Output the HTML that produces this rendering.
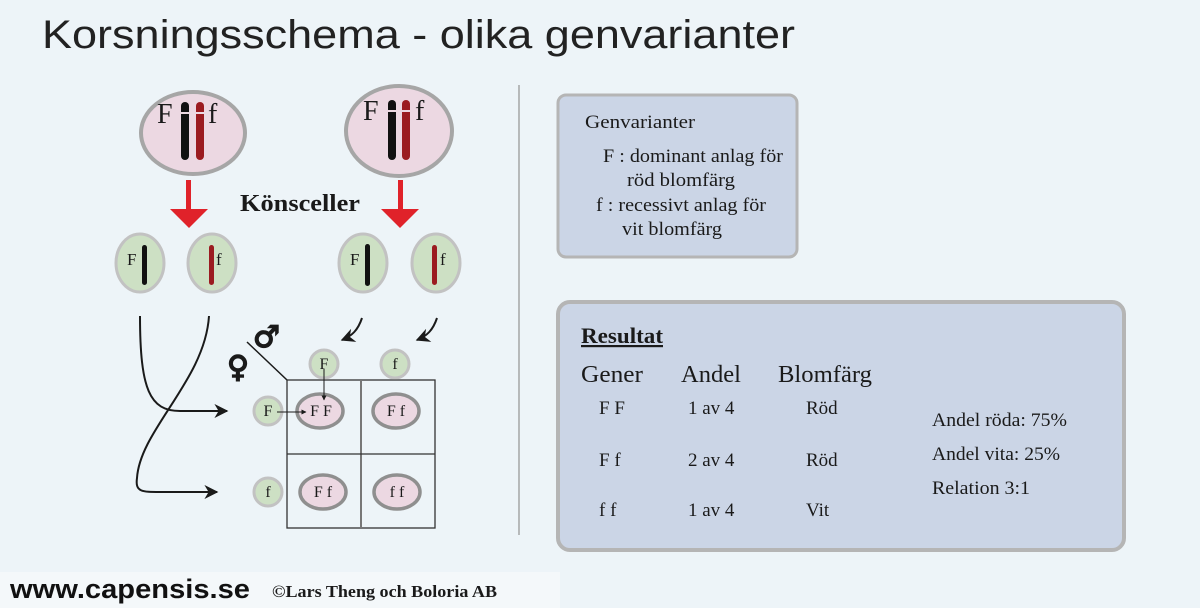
<!DOCTYPE html>
<html><head><meta charset="utf-8"><style>
html,body{margin:0;padding:0;background:#edf4f8;}
svg{display:block}
.s{font-family:"Liberation Serif",serif;fill:#1a1a1a}
</style></head><body>
<svg width="1200" height="608" viewBox="0 0 1200 608" xmlns="http://www.w3.org/2000/svg">
<defs>
<marker id="ah" viewBox="0 0 10 10" refX="9" refY="5" markerWidth="7" markerHeight="7" orient="auto"><path d="M0,0 L10,5 L0,10 L3,5 z" fill="#1a1a1a"/></marker>
<marker id="ah2" viewBox="0 0 10 10" refX="9" refY="5" markerWidth="5" markerHeight="5" orient="auto"><path d="M0,0 L10,5 L0,10 z" fill="#1a1a1a"/></marker>
</defs>
<rect width="1200" height="608" fill="#edf4f8"/>
<rect x="0" y="572" width="560" height="36" fill="#f4f8fa"/>
<text x="42" y="48" font-family="Liberation Sans,sans-serif" font-size="40" fill="#222" textLength="753" lengthAdjust="spacingAndGlyphs">Korsningsschema - olika genvarianter</text>

<ellipse cx="193" cy="133" rx="52" ry="41" fill="#ecd8e2" stroke="#a6a6a6" stroke-width="4"/>
<ellipse cx="399" cy="131" rx="53" ry="45" fill="#ecd8e2" stroke="#a6a6a6" stroke-width="4"/>
<g fill="#111"><rect x="181" y="102" width="8" height="58" rx="4"/><rect x="388" y="100" width="8" height="60" rx="4"/></g>
<g fill="#9b1b20"><rect x="196" y="102" width="8" height="58" rx="4"/><rect x="402" y="100" width="8" height="60" rx="4"/></g>
<g stroke="#ecd8e2" stroke-width="2"><line x1="180" y1="113" x2="205" y2="113"/><line x1="387" y1="111" x2="411" y2="111"/></g>
<text class="s" x="157" y="123" font-size="28">F</text><text class="s" x="208" y="123" font-size="28">f</text>
<text class="s" x="363" y="120" font-size="28">F</text><text class="s" x="415" y="120" font-size="28">f</text>

<g fill="#e0222a"><rect x="186" y="180" width="5" height="36"/><path d="M170,209 L208,209 L189,228 z"/>
<rect x="398" y="180" width="5" height="36"/><path d="M381,209 L419,209 L400,228 z"/></g>
<text class="s" x="240" y="211" font-size="24" font-weight="bold" textLength="120" lengthAdjust="spacingAndGlyphs">Könsceller</text>

<g fill="#cde0c4" stroke="#c2c2c2" stroke-width="3">
<ellipse cx="140" cy="263" rx="24" ry="29"/><ellipse cx="212" cy="263" rx="24" ry="29"/>
<ellipse cx="363" cy="263" rx="24" ry="29"/><ellipse cx="436" cy="263" rx="24" ry="29"/></g>
<g fill="#111"><rect x="142" y="245" width="5" height="40" rx="2.5"/><rect x="365" y="244" width="5" height="42" rx="2.5"/></g>
<g fill="#9b1b20"><rect x="209" y="245" width="5" height="40" rx="2.5"/><rect x="432" y="245" width="5" height="40" rx="2.5"/></g>
<text class="s" x="127" y="265" font-size="17">F</text><text class="s" x="216" y="265" font-size="17">f</text>
<text class="s" x="350" y="265" font-size="17">F</text><text class="s" x="440" y="265" font-size="17">f</text>

<g fill="none" stroke="#1a1a1a" stroke-width="2">
<path d="M140,316 C140,390 150,411 180,411 L227,411" marker-end="url(#ah)"/>
<path d="M209,316 C205,380 140,430 137,478 C135,492 142,492 160,492 L217,492" marker-end="url(#ah)"/>
<path d="M362,318 C358,330 352,336 342,340" marker-end="url(#ah)"/>
<path d="M437,318 C433,330 427,336 417,340" marker-end="url(#ah)"/>
<line x1="247" y1="342" x2="287" y2="380" stroke-width="1.5"/>
</g>
<text x="253" y="347" font-family="DejaVu Sans,sans-serif" font-weight="bold" font-size="30" fill="#1a1a1a" stroke="#1a1a1a" stroke-width="1.5">♂</text>
<text x="227" y="377" font-family="DejaVu Sans,sans-serif" font-weight="bold" font-size="30" fill="#1a1a1a" stroke="#1a1a1a" stroke-width="1.5">♀</text>

<g fill="none" stroke="#333" stroke-width="1.3"><rect x="287" y="380" width="148" height="148"/><line x1="361" y1="380" x2="361" y2="528" stroke="#777" stroke-width="2"/><line x1="287" y1="454" x2="435" y2="454"/></g>
<g fill="#cde0c4" stroke="#c2c2c2" stroke-width="3">
<circle cx="324" cy="364" r="14"/><circle cx="395" cy="364" r="14"/>
<circle cx="268" cy="411" r="14"/><circle cx="268" cy="492" r="14"/></g>
<g fill="#ecd8e2" stroke="#8f8f8f" stroke-width="3.5">
<ellipse cx="320" cy="411" rx="23" ry="17"/><ellipse cx="396" cy="411" rx="23" ry="17"/>
<ellipse cx="323" cy="492" rx="23" ry="17"/><ellipse cx="397" cy="492" rx="23" ry="17"/></g>
<g class="s" font-size="16" text-anchor="middle">
<text x="324" y="369">F</text><text x="395" y="369">f</text><text x="268" y="416">F</text><text x="268" y="497">f</text>
<text x="321" y="416">F F</text><text x="396" y="416">F f</text><text x="323" y="497">F f</text><text x="397" y="497">f f</text></g>
<g stroke="#1a1a1a" stroke-width="1" fill="none">
<line x1="324" y1="369" x2="324" y2="400" marker-end="url(#ah2)"/>
<line x1="277" y1="412" x2="306" y2="412" marker-end="url(#ah2)"/></g>

<line x1="519" y1="85" x2="519" y2="535" stroke="#9a9a9a" stroke-width="1.3"/>

<rect x="558" y="95" width="239" height="162" rx="8" fill="#cbd5e6" stroke="#b5b5b5" stroke-width="3"/>
<g class="s" font-size="19">
<text x="585" y="128" textLength="110" lengthAdjust="spacingAndGlyphs">Genvarianter</text>
<text x="603" y="162" textLength="180" lengthAdjust="spacingAndGlyphs">F : dominant anlag för</text>
<text x="627" y="186" textLength="108" lengthAdjust="spacingAndGlyphs">röd blomfärg</text>
<text x="596" y="211" textLength="170" lengthAdjust="spacingAndGlyphs">f : recessivt anlag för</text>
<text x="622" y="235" textLength="100" lengthAdjust="spacingAndGlyphs">vit blomfärg</text></g>

<rect x="558" y="302" width="566" height="248" rx="12" fill="#cbd5e6" stroke="#b5b5b5" stroke-width="4"/>
<g class="s">
<text x="581" y="343" font-size="22" font-weight="bold" text-decoration="underline" textLength="82" lengthAdjust="spacingAndGlyphs">Resultat</text>
<text x="581" y="382" font-size="24" textLength="62" lengthAdjust="spacingAndGlyphs">Gener</text><text x="681" y="382" font-size="24" textLength="60" lengthAdjust="spacingAndGlyphs">Andel</text><text x="778" y="382" font-size="24" textLength="94" lengthAdjust="spacingAndGlyphs">Blomfärg</text>
<g font-size="19"><text x="599" y="414">F F</text><text x="688" y="414">1 av 4</text><text x="806" y="414">Röd</text>
<text x="599" y="466">F f</text><text x="688" y="466">2 av 4</text><text x="806" y="466">Röd</text>
<text x="599" y="516">f  f</text><text x="688" y="516">1 av 4</text><text x="806" y="516">Vit</text>
<text x="932" y="426" textLength="135" lengthAdjust="spacingAndGlyphs">Andel röda: 75%</text><text x="932" y="460" textLength="128" lengthAdjust="spacingAndGlyphs">Andel vita: 25%</text><text x="932" y="494" textLength="98" lengthAdjust="spacingAndGlyphs">Relation 3:1</text></g></g>

<text x="10" y="598" font-family="Liberation Sans,sans-serif" font-weight="bold" font-size="27" fill="#111" textLength="240" lengthAdjust="spacingAndGlyphs">www.capensis.se</text>
<text x="272" y="597" class="s" font-weight="bold" font-size="17" textLength="225" lengthAdjust="spacingAndGlyphs">©Lars Theng och Boloria AB</text>
</svg>
</body></html>
